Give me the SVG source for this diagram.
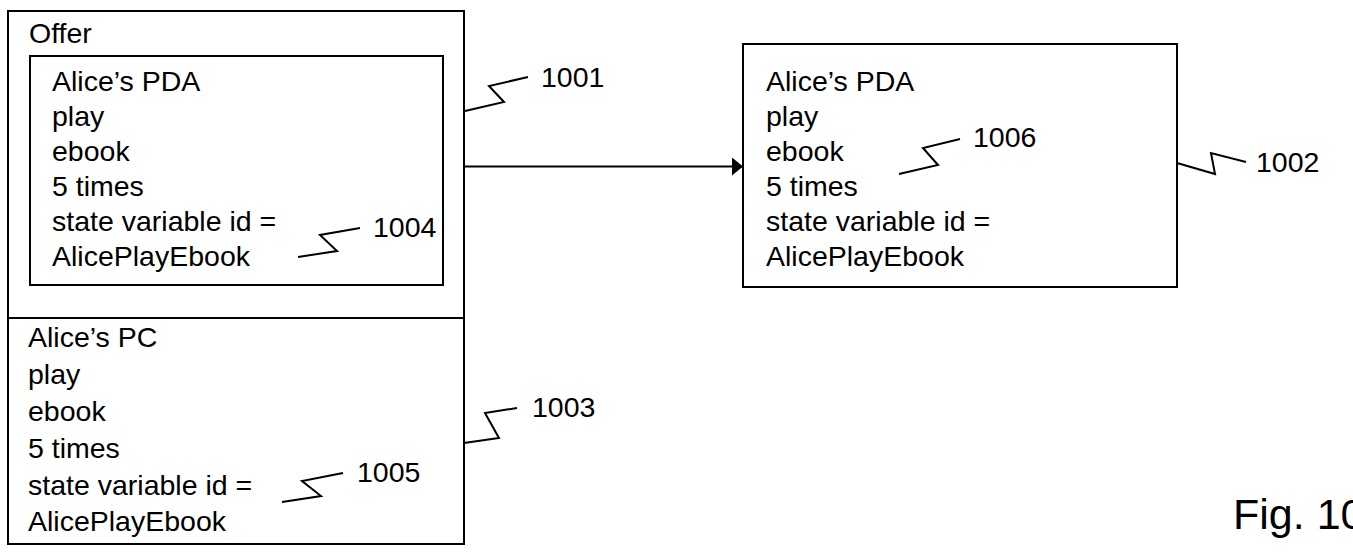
<svg xmlns="http://www.w3.org/2000/svg" width="1353" height="559" viewBox="0 0 1353 559">
<defs>
<style>
.box{fill:none;stroke:#000;stroke-width:2}
.ld{fill:none;stroke:#000;stroke-width:2;stroke-linejoin:miter}
text{font-family:"Liberation Sans",Arial,sans-serif;font-size:28.5px;fill:#000}
.fig{font-size:43px}
</style>
<marker id="ah" viewBox="0 0 11 18" refX="11" refY="9" markerWidth="11" markerHeight="18" markerUnits="userSpaceOnUse" orient="auto">
<path d="M0,0 L11,9 L0,18 Z" fill="#000"/>
</marker>
</defs>
<rect width="1353" height="559" fill="#fff"/>
<g id="offer">
<rect class="box" x="8" y="11" width="456" height="533"/>
<line class="box" x1="8" y1="318" x2="464" y2="318"/>
<text x="29" y="43">Offer</text>
</g>
<g id="pda-offer">
<rect class="box" x="30" y="56" width="413" height="229"/>
<text x="52" y="91">Alice’s PDA</text>
<text x="52" y="126">play</text>
<text x="52" y="161">ebook</text>
<text x="52" y="196">5 times</text>
<text x="52" y="231">state variable id =</text>
<text x="52" y="266">AlicePlayEbook</text>
</g>
<g id="pc-offer">
<text x="28" y="347">Alice’s PC</text>
<text x="28" y="384">play</text>
<text x="28" y="421">ebook</text>
<text x="28" y="458">5 times</text>
<text x="28" y="495">state variable id =</text>
<text x="28" y="531">AlicePlayEbook</text>
</g>
<g id="pda-license">
<rect class="box" x="743" y="44" width="434" height="243"/>
<text x="766" y="91">Alice’s PDA</text>
<text x="766" y="126">play</text>
<text x="766" y="161">ebook</text>
<text x="766" y="196">5 times</text>
<text x="766" y="231">state variable id =</text>
<text x="766" y="266">AlicePlayEbook</text>
</g>
<g id="connectors">
<line class="ld" x1="465" y1="166.5" x2="743" y2="166.5" marker-end="url(#ah)"/>
</g>
<g id="labels">
<polyline class="ld" points="465,111 504,102 489,86 528,77"/>
<text x="541" y="87">1001</text>
<polyline class="ld" points="1177,163 1215,174 1211,153 1246,162"/>
<text x="1256" y="172">1002</text>
<polyline class="ld" points="464,443 499,438 485,413 517,408"/>
<text x="532" y="417">1003</text>
<polyline class="ld" points="298,257 337,251 320,235 360,228"/>
<text x="373" y="237">1004</text>
<polyline class="ld" points="282,502 321,496 302,481 343,473"/>
<text x="357" y="482">1005</text>
<polyline class="ld" points="899,174 938,165 923,148 960,139"/>
<text x="973" y="147">1006</text>
<text class="fig" x="1233" y="529">Fig. 10</text>
</g>
</svg>
